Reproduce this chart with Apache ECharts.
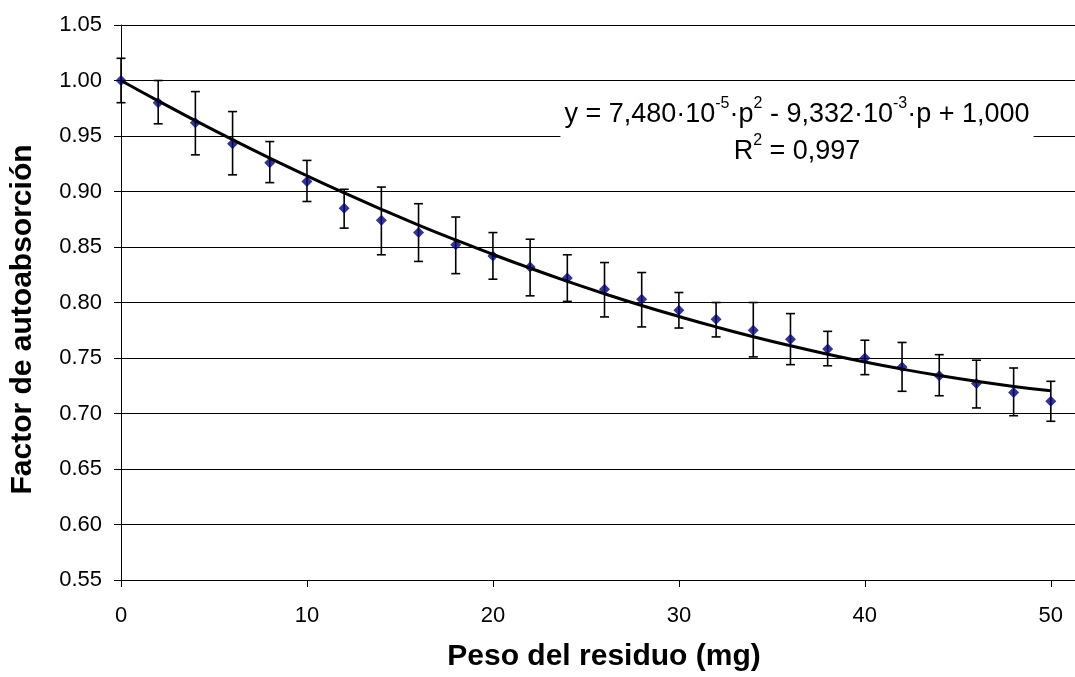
<!DOCTYPE html>
<html>
<head>
<meta charset="utf-8">
<script src="https://cdn.jsdelivr.net/npm/echarts@6/dist/echarts.min.js"></script>
<style>
  html, body { margin: 0; padding: 0; background: #fff; }
  #chart { width: 1075px; height: 677px; }
</style>
</head>
<body>
<div id="chart"></div>
<script>
// peso del residuo (mg)
var peso = [0, 2, 4, 6, 8, 10, 12, 14, 16, 18, 20, 22, 24, 26, 28, 30, 32, 34, 36, 38, 40, 42, 44, 46, 48, 50];
// factor de autoabsorción medido
var factor = [1.000, 0.980, 0.962, 0.943, 0.926, 0.909, 0.885, 0.874, 0.863, 0.852, 0.842, 0.832, 0.822,
              0.812, 0.803, 0.793, 0.785, 0.775, 0.767, 0.758, 0.750, 0.742, 0.734, 0.727, 0.719, 0.711];
// barras de error (extremo inferior / superior)
var errInf = [0.980, 0.961, 0.933, 0.915, 0.908, 0.891, 0.867, 0.843, 0.837, 0.826, 0.821, 0.806, 0.801,
              0.787, 0.778, 0.777, 0.769, 0.751, 0.744, 0.743, 0.735, 0.720, 0.716, 0.705, 0.698, 0.693];
var errSup = [1.020, 1.000, 0.990, 0.972, 0.945, 0.928, 0.902, 0.904, 0.889, 0.877, 0.863, 0.857, 0.843,
              0.836, 0.827, 0.809, 0.800, 0.800, 0.790, 0.774, 0.766, 0.764, 0.753, 0.748, 0.741, 0.729];
// curva de ajuste
var ajuste = [1.000, 0.9816, 0.9639, 0.9467, 0.9301, 0.9142, 0.8988, 0.8840, 0.8698, 0.8563, 0.8433, 0.8309, 0.8191,
              0.8079, 0.7973, 0.7874, 0.7780, 0.7692, 0.7610, 0.7534, 0.7464, 0.7400, 0.7342, 0.7290, 0.7244, 0.7204];
var xTicks = [0, 10, 20, 30, 40, 50];

var fuente = "'Liberation Sans', Arial, sans-serif";

var puntos = [], barras = [], curva = [];
for (var i = 0; i < peso.length; i++) {
  puntos.push([peso[i], factor[i]]);
  barras.push([peso[i], errInf[i], errSup[i]]);
  curva.push([peso[i], ajuste[i]]);
}

function dibujaBarra(params, api) {
  var x = api.value(0);
  var lo = api.coord([x, api.value(1)]);
  var hi = api.coord([x, api.value(2)]);
  var w = 4.5;
  var estilo = { stroke: '#000', lineWidth: 1.6 };
  return {
    type: 'group',
    children: [
      { type: 'line', shape: { x1: lo[0], y1: lo[1], x2: hi[0], y2: hi[1] }, style: estilo },
      { type: 'line', shape: { x1: lo[0] - w, y1: lo[1], x2: lo[0] + w, y2: lo[1] }, style: estilo },
      { type: 'line', shape: { x1: hi[0] - w, y1: hi[1], x2: hi[0] + w, y2: hi[1] }, style: estilo }
    ]
  };
}

var option = {
  backgroundColor: '#ffffff',
  animation: false,
  textStyle: { fontFamily: fuente },
  grid: { left: 121, right: 0, top: 25, bottom: 93, containLabel: false },
  xAxis: {
    type: 'value',
    min: 0,
    max: 51.3,
    name: 'Peso del residuo (mg)',
    nameLocation: 'middle',
    nameGap: 62,
    nameTextStyle: { fontSize: 30, fontWeight: 'bold', color: '#000', fontFamily: fuente, padding: [0, 0, 0, 12] },
    axisLine: { show: true, lineStyle: { color: '#000', width: 1 } },
    axisTick: { show: true, length: 7, customValues: xTicks, lineStyle: { color: '#000' } },
    axisLabel: { customValues: xTicks, fontSize: 22, color: '#000', margin: 25, fontFamily: fuente },
    splitLine: { show: false }
  },
  yAxis: {
    type: 'value',
    min: 0.55,
    max: 1.05,
    interval: 0.05,
    name: 'Factor de autoabsorción',
    nameLocation: 'middle',
    nameGap: 83,
    nameTextStyle: { fontSize: 30, fontWeight: 'bold', color: '#000', fontFamily: fuente, padding: [0, 34, 0, 0] },
    axisLine: { show: true, lineStyle: { color: '#000', width: 1 } },
    axisTick: { show: true, length: 7, lineStyle: { color: '#000' } },
    axisLabel: {
      fontSize: 22, color: '#000', margin: 19, fontFamily: fuente,
      formatter: function (v) { return v.toFixed(2); }
    },
    splitLine: { show: true, lineStyle: { color: '#000', width: 1 } }
  },
  series: [
    {
      type: 'custom',
      renderItem: dibujaBarra,
      data: barras,
      z: 1,
      encode: { x: 0, y: [1, 2] }
    },
    {
      type: 'scatter',
      data: puntos,
      symbol: 'diamond',
      symbolSize: 11,
      itemStyle: { color: '#000080' },
      z: 2
    },
    {
      type: 'line',
      data: curva,
      smooth: true,
      showSymbol: false,
      lineStyle: { color: '#000', width: 3 },
      z: 3
    }
  ],
  graphic: [
    {
      type: 'text',
      x: 797,
      y: 96,
      z: 10,
      style: {
        text: '{n|y = 7,480·10}{s|-5}{n|·p}{s|2}{n| - 9,332·10}{s|-3}{n|·p + 1,000}\n{n|R}{s|2}{n| = 0,997}',
        align: 'center',
        verticalAlign: 'top',
        backgroundColor: '#fff',
        padding: [0, 4],
        fill: '#000',
        font: '27px ' + fuente,
        rich: {
          n: { fontSize: 27, lineHeight: 37, fontFamily: fuente, color: '#000' },
          s: { fontSize: 16, lineHeight: 25, verticalAlign: 'top', fontFamily: fuente, color: '#000' }
        }
      }
    }
  ]
};

var myChart = echarts.init(document.getElementById('chart'));
myChart.setOption(option);
</script>
</body>
</html>
